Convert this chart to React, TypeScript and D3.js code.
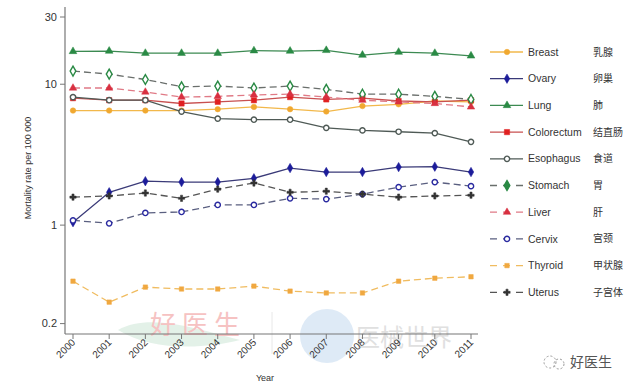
import React from "react";
import * as d3 from "d3";

const years = [2000, 2001, 2002, 2003, 2004, 2005, 2006, 2007, 2008, 2009, 2010, 2011];
const yTicks = [0.2, 1, 10, 30];

const breast = [6.5, 6.5, 6.5, 6.5, 6.65, 6.9, 6.65, 6.4, 7.0, 7.2, 7.6, 7.5];
const ovary = [1.05, 1.71, 2.05, 2.02, 2.02, 2.15, 2.54, 2.38, 2.38, 2.58, 2.6, 2.38];
const lung = [17.1, 17.2, 16.6, 16.6, 16.6, 17.3, 17.2, 17.4, 16.1, 16.9, 16.6, 15.9];
const colorectum = [7.96, 7.7, 7.7, 7.3, 7.5, 7.7, 8.1, 7.8, 7.96, 7.6, 7.5, 7.7];
const esophagus = [8.1, 7.7, 7.7, 6.4, 5.7, 5.6, 5.6, 4.9, 4.7, 4.6, 4.5, 3.9];
const stomach = [12.4, 11.8, 10.8, 9.6, 9.7, 9.4, 9.7, 9.2, 8.5, 8.5, 8.2, 7.8];
const liver = [9.4, 9.4, 8.8, 8.1, 8.2, 8.4, 8.5, 8.1, 7.7, 7.5, 7.3, 6.9];
const cervix = [1.08, 1.03, 1.22, 1.24, 1.39, 1.39, 1.55, 1.53, 1.66, 1.86, 2.02, 1.89];
const thyroid = [0.4, 0.284, 0.363, 0.352, 0.352, 0.369, 0.34, 0.33, 0.33, 0.4, 0.42, 0.43];
const uterus = [1.58, 1.61, 1.69, 1.55, 1.8, 1.99, 1.71, 1.74, 1.66, 1.58, 1.61, 1.63];

const names = ["Breast", "Ovary", "Lung", "Colorectum", "Esophagus", "Stomach", "Liver", "Cervix", "Thyroid", "Uterus"];
const namesCn = ["乳腺", "卵巢", "肺", "结直肠", "食道", "胃", "肝", "宫颈", "甲状腺", "子宫体"];

// styles per series, same order as names
const series = [
  { values: breast, line: "#f2b84b", mark: "#f0a830", fill: "#f0a830", shape: d3.symbolCircle, size: 24, dash: null },
  { values: ovary, line: "#3a3a78", mark: "#1c1c9a", fill: "#1c1c9a", shape: d3.symbolDiamond, size: 26, dash: null },
  { values: lung, line: "#3c8a52", mark: "#2a8a45", fill: "#2a8a45", shape: d3.symbolTriangle, size: 26, dash: null },
  { values: colorectum, line: "#c85050", mark: "#e02020", fill: "#e02020", shape: d3.symbolSquare, size: 28, dash: null },
  { values: esophagus, line: "#4f5a56", mark: "#4f5a56", fill: "#fff", shape: d3.symbolCircle, size: 22, dash: null },
  { values: stomach, line: "#6a6f6c", mark: "#2a8a45", fill: "#fff", shape: d3.symbolDiamond, size: 28, dash: "7,4" },
  { values: liver, line: "#e07a86", mark: "#d83040", fill: "#d83040", shape: d3.symbolTriangle, size: 24, dash: "7,4" },
  { values: cervix, line: "#5a5f80", mark: "#2a2aa0", fill: "#fff", shape: d3.symbolCircle, size: 22, dash: "7,4" },
  { values: thyroid, line: "#f0bc60", mark: "#f0a840", fill: "#f0a840", shape: d3.symbolSquare, size: 20, dash: "7,4" },
  { values: uterus, line: "#555", mark: "#333", fill: "#333", shape: d3.symbolCross, size: 22, dash: "7,4" },
];

const x = d3.scaleLinear().domain([2000, 2011]).range([73, 471]);
const y = d3.scaleLog().domain([0.2, 30]).range([323.6, 17]);

export default function App() {
  const line = d3.line<number>().x((d, i) => x(years[i])).y(d => y(d));
  const font = "'Liberation Sans', Arial, sans-serif";

  return (
    <svg width={631} height={384} style={{ position: "absolute", left: 0, top: 0, background: "#fff" }} fontFamily={font}>
      {/* watermarks */}
      <path d="M118,330 C150,312 200,330 240,340 C200,350 150,350 118,330 Z" fill="#dcede2" opacity={0.8} />
      <text x={150} y={334} fontSize={26} fill="#f6c2c2" fontFamily="'Noto Sans CJK SC', serif" letterSpacing={6}>好医生</text>
      <circle cx={327} cy={336} r={27} fill="#d8e6f5" opacity={0.85} />
      <line x1={272} y1={312} x2={272} y2={354} stroke="#e8e8e8" />
      <text x={356} y={346} fontSize={24} fill="#e0e0e0" fontFamily="'Noto Sans CJK SC', sans-serif">医械世界</text>

      {/* axes */}
      <line x1={65} y1={7} x2={65} y2={334} stroke="#777" strokeWidth={1.2} />
      <line x1={65} y1={334} x2={478} y2={334} stroke="#777" strokeWidth={1.2} />
      {yTicks.map(t => (
        <g key={t}>
          <line x1={60} x2={65} y1={y(t)} y2={y(t)} stroke="#777" />
          <text x={57} y={y(t)} dy="0.35em" textAnchor="end" fontSize={11} fill="#333">{t}</text>
        </g>
      ))}
      {years.map(yr => (
        <g key={yr}>
          <line x1={x(yr)} x2={x(yr)} y1={334} y2={339} stroke="#777" />
          <text transform={`translate(${x(yr) + 3},${343}) rotate(-45)`} textAnchor="end" fontSize={10} fill="#333">{yr}</text>
        </g>
      ))}
      <text x={265} y={381} textAnchor="middle" fontSize={9} fill="#333">Year</text>
      <text transform="translate(31,168) rotate(-90)" textAnchor="middle" fontSize={9} fill="#333">Mortality rate per 100 000</text>

      {/* series */}
      {series.map((s, k) => (
        <g key={k}>
          <path d={line(s.values) || ""} fill="none" stroke={s.line} strokeWidth={1.3} strokeDasharray={s.dash || undefined} />
          {s.values.map((v, i) => (
            <path key={i} d={d3.symbol().type(s.shape).size(s.size)() || ""}
              transform={`translate(${x(years[i])},${y(v)})`}
              fill={s.fill} stroke={s.mark} strokeWidth={s.fill === "#fff" ? 1.4 : 0.5} />
          ))}
        </g>
      ))}

      {/* legend */}
      {series.map((s, k) => {
        const ly = 52 + k * 26.7;
        return (
          <g key={k}>
            <line x1={490} x2={523} y1={ly} y2={ly} stroke={s.line} strokeWidth={1.3} strokeDasharray={s.dash ? "7,6" : undefined} />
            <path d={d3.symbol().type(s.shape).size(s.size)() || ""} transform={`translate(507,${ly})`}
              fill={s.fill === "#fff" && k !== 5 ? "#fff" : s.mark} stroke={s.mark} strokeWidth={s.fill === "#fff" ? 1.4 : 0.5} />
            <text x={528} y={ly} dy="0.35em" fontSize={10.5} fill="#333">{names[k]}</text>
            <text x={593} y={ly} dy="0.35em" fontSize={10} fill="#333" fontFamily="'Noto Sans CJK SC', sans-serif">{namesCn[k]}</text>
          </g>
        );
      })}

      {/* bottom-right badge */}
      <g transform="translate(553,362)" fill="none" stroke="#999" strokeWidth={1}>
        <circle cx={-3} cy={0} r={6} strokeDasharray="2,2" />
        <circle cx={6} cy={2} r={5} strokeDasharray="2,2" />
      </g>
      <text x={570} y={367} fontSize={14} fill="#555" fontFamily="'Noto Sans CJK SC', sans-serif">好医生</text>
    </svg>
  );
}
